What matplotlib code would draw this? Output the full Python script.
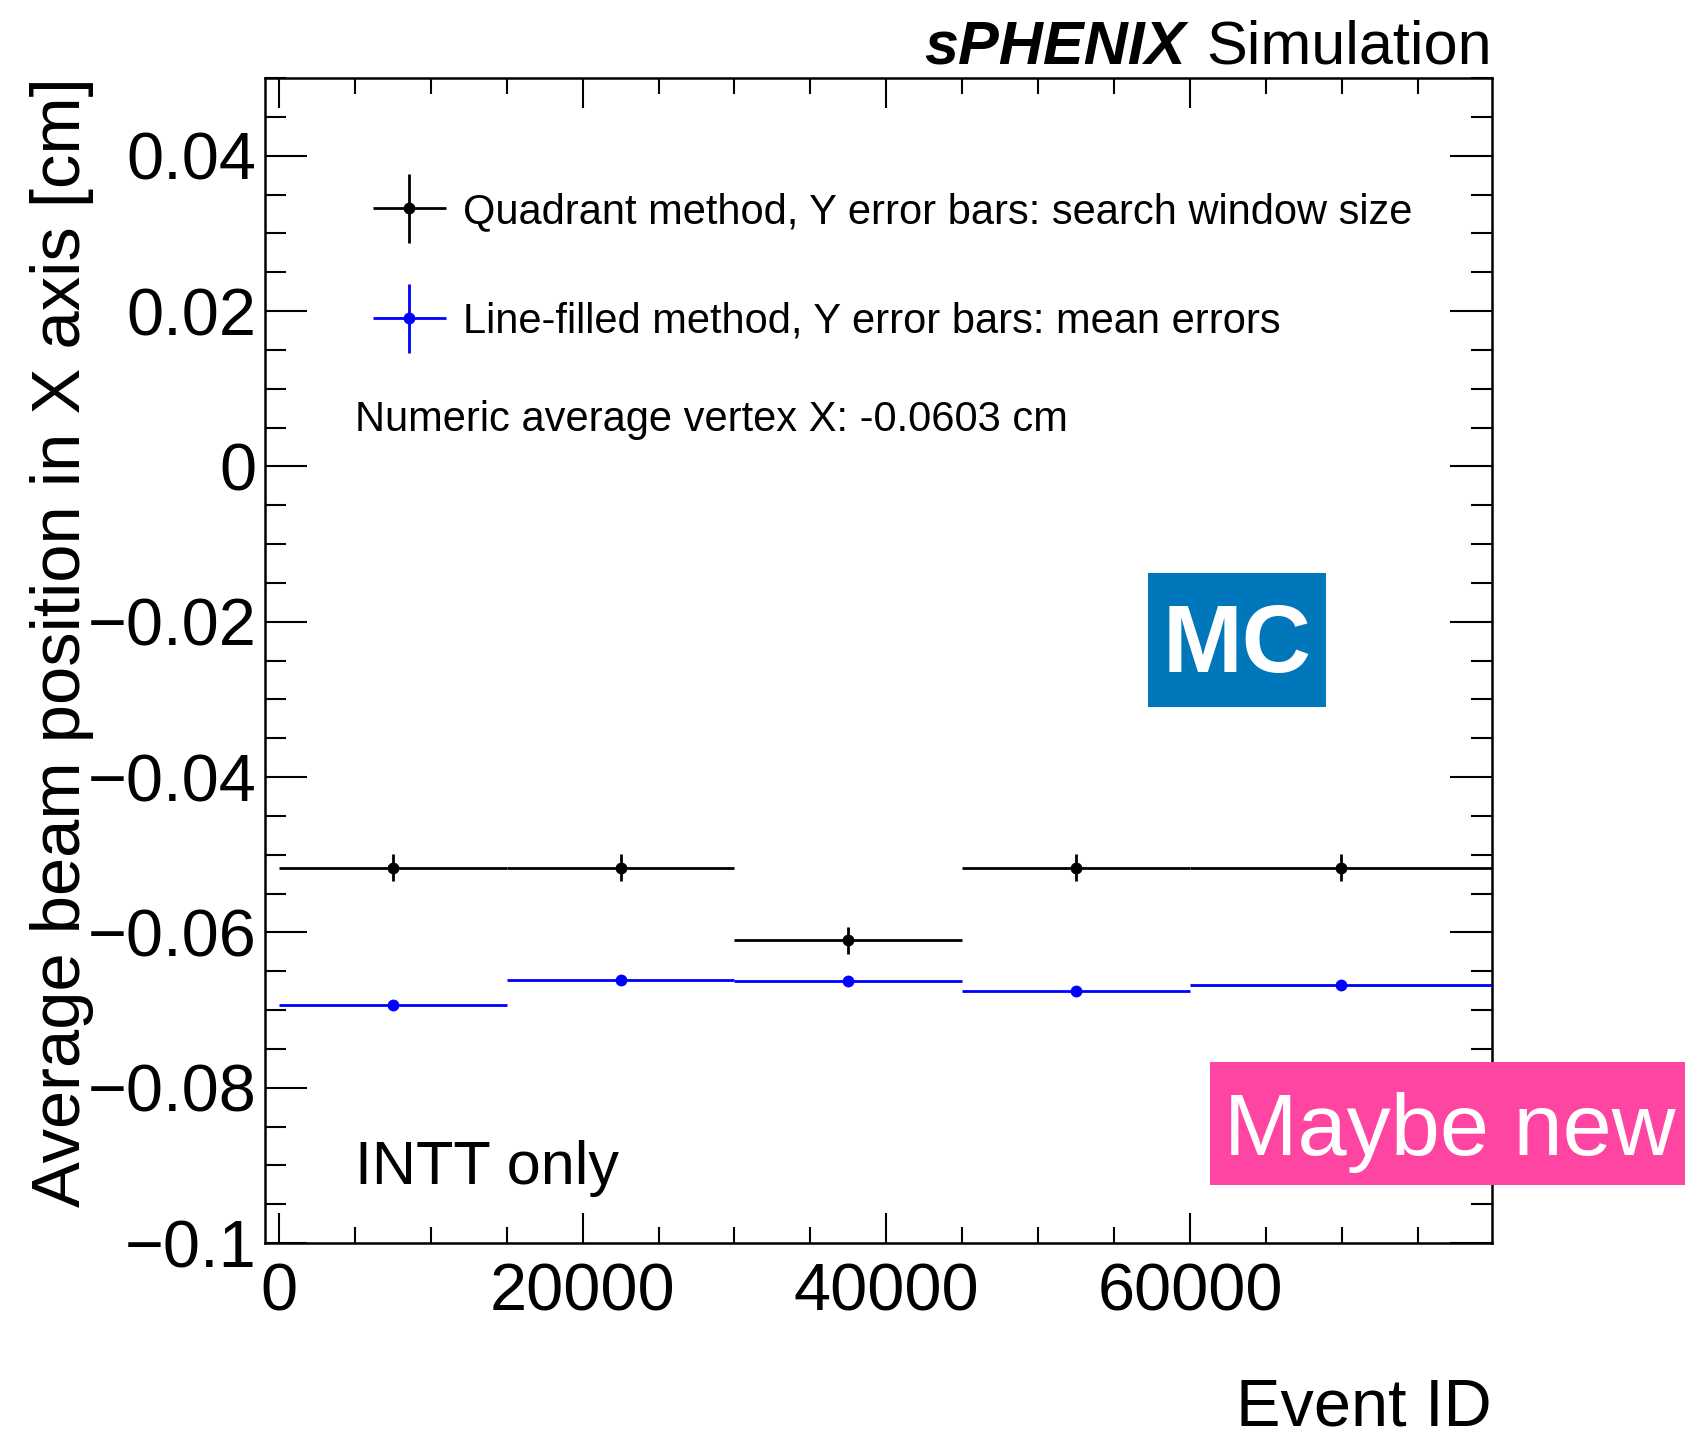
import matplotlib
matplotlib.use("Agg")
import matplotlib.pyplot as plt
from matplotlib.ticker import MultipleLocator
from matplotlib.patches import Rectangle
from matplotlib.container import ErrorbarContainer
from matplotlib.legend_handler import HandlerErrorbar

# ---------------- data ----------------
bin_centers = [7500, 22500, 37500, 52500, 69950]
bin_halfwidths = [7500, 7500, 7500, 7500, 9950]
quadrant_y = [-0.05166, -0.05166, -0.06103, -0.05166, -0.05166]
quadrant_yerr = [0.0017, 0.0017, 0.0017, 0.0017, 0.0017]
linefill_y = [-0.06932, -0.06615, -0.06623, -0.06752, -0.06683]
linefill_yerr = [0.0003, 0.0003, 0.0003, 0.0003, 0.0003]

xtick_vals = [0, 20000, 40000, 60000]
xtick_labels = ["0", "20000", "40000", "60000"]
ytick_vals = [0.04, 0.02, 0.0, -0.02, -0.04, -0.06, -0.08, -0.1]
ytick_labels = ["0.04", "0.02", "0", "\u22120.02", "\u22120.04", "\u22120.06", "\u22120.08", "\u22120.1"]

label_quadrant = "Quadrant method, Y error bars: search window size"
label_linefill = "Line-filled method, Y error bars: mean errors"
numeric_text = "Numeric average vertex X: -0.0603 cm"

# ---------------- figure ----------------
W, H = 1685, 1438
plt.rcParams['font.family'] = ['Liberation Sans', 'DejaVu Sans']
fig = plt.figure(figsize=(W / 100, H / 100), dpi=100)

def fx(px):
    return px / W

def fy(py):
    return 1 - py / H

ax_l, ax_r, ax_t, ax_b = 265, 1492, 78, 1243
ax = fig.add_axes([fx(ax_l), fy(ax_b), fx(ax_r - ax_l), (ax_b - ax_t) / H])

ax.errorbar(bin_centers, quadrant_y, xerr=bin_halfwidths, yerr=quadrant_yerr,
            fmt='o', color='black', markersize=7.5, elinewidth=2.0, capsize=0,
            label=label_quadrant, zorder=3)
ax.errorbar(bin_centers, linefill_y, xerr=bin_halfwidths, yerr=linefill_yerr,
            fmt='o', color='#0000ff', markersize=7.5, elinewidth=2.0, capsize=0,
            label=label_linefill, zorder=3)

ax.set_xlim(-920, 79900)
ax.set_ylim(-0.1, 0.05)

ax.set_xticks(xtick_vals, xtick_labels)
ax.set_yticks(ytick_vals, ytick_labels)
ax.xaxis.set_minor_locator(MultipleLocator(5000))
ax.yaxis.set_minor_locator(MultipleLocator(0.005))

ax.tick_params(axis='both', which='both', direction='in', top=True, right=True,
               width=1.5, labelsize=48)
ax.tick_params(axis='x', which='major', length=21.6, pad=14)
ax.tick_params(axis='x', which='minor', length=11.5)
ax.tick_params(axis='y', which='major', length=30, pad=6)
ax.tick_params(axis='y', which='minor', length=15)
for s in ax.spines.values():
    s.set_linewidth(1.8)

# legend
hm = {ErrorbarContainer: HandlerErrorbar(xerr_size=0.875, yerr_size=0.83)}
leg = ax.legend(loc='upper left', bbox_to_anchor=(fx(373), fy(192)),
                bbox_transform=fig.transFigure, frameon=False, fontsize=30,
                handlelength=1.75, handleheight=0.7, labelspacing=1.68,
                handletextpad=0.4, borderpad=0, borderaxespad=0,
                handler_map=hm)

fig.text(fx(355), fy(420), numeric_text, fontsize=30, ha='left', va='center')
fig.text(fx(355), fy(1184), "INTT only", fontsize=44, ha='left', va='baseline')

# header
fig.text(fx(1492), fy(64), "Simulation", fontsize=44, ha='right', va='baseline')
fig.text(fx(1186), fy(64), "sPHENIX", fontsize=44, ha='right', va='baseline',
         fontweight='bold', fontstyle='italic')

# axis titles
fig.text(fx(62), fy(77), "Average beam position in X axis [cm]", fontsize=49.5,
         rotation=90, ha='center', va='top')
fig.text(fx(1492), fy(1426), "Event ID", fontsize=48, ha='right', va='baseline')

# MC box
fig.patches.append(Rectangle((fx(1148), fy(707)), fx(1326 - 1148), (707 - 573) / H,
                             transform=fig.transFigure, facecolor='#0077BB',
                             edgecolor='none', zorder=5))
fig.text(fx(1237), fy(647), "MC", fontsize=69, fontweight='bold', color='white',
         ha='center', va='center', zorder=6)

# Maybe new box
fig.patches.append(Rectangle((fx(1210), fy(1185)), fx(1700 - 1210), (1185 - 1062) / H,
                             transform=fig.transFigure, facecolor='#FF45A2',
                             edgecolor='none', zorder=5))
fig.text(fx(1224), fy(1155), "Maybe new", fontsize=63.5, color='white',
         ha='left', va='baseline', zorder=6)

fig.savefig("out.png", dpi=100)
